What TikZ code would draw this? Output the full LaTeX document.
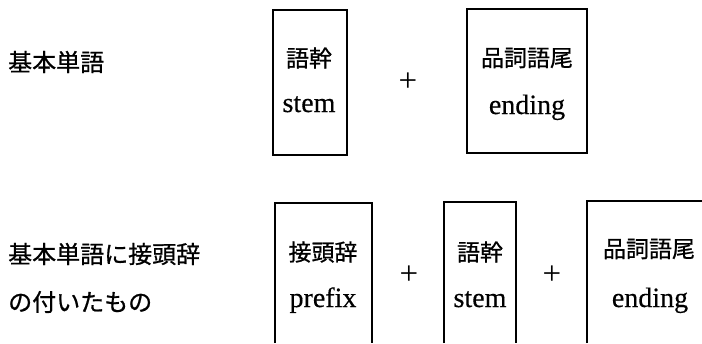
\documentclass[tikz,border=0pt]{standalone}
\usepackage{fontspec}
\setmainfont[FakeBold=0.4]{Liberation Serif}
\newfontfamily\cjk[FakeBold=0.8]{Noto Sans CJK JP}
\newfontfamily\plusfont{Liberation Serif}
\begin{document}
\begin{tikzpicture}[x=1pt,y=-1pt,
  boxline/.style={line width=1.2pt},
  jp/.style={font=\cjk\fontsize{23}{23}\selectfont, inner sep=0pt},
  lab/.style={font=\cjk\fontsize{24}{24}\selectfont, inner sep=0pt, anchor=west},
  en/.style={font=\fontsize{28}{28}\selectfont, inner sep=0pt, anchor=base},
  plus/.style={font=\plusfont\fontsize{33}{33}\selectfont, inner sep=0pt}]
\useasboundingbox (0,0) rectangle (702,343);
% left labels
\node[lab] (l1) at (8,62) {基本単語};
\node[lab] (l2) at (8,254) {基本単語に接頭辞};
\node[lab] (l3) at (8,302) {の付いたもの};
% top row
\node[draw, boxline, minimum width=74pt, minimum height=145pt, inner sep=0pt] (b1) at (310,82.5) {};
\node[jp] (b1j) at (309,58) {語幹};
\node[en] (b1e) at (309,112) {stem};
\node[plus] (p1) at (408,82) {+};
\node[draw, boxline, minimum width=120pt, minimum height=144pt, inner sep=0pt] (b2) at (527,81) {};
\node[jp] (b2j) at (527,58) {品詞語尾};
\node[en] (b2e) at (527,114) {ending};
% bottom row
\coordinate (c1) at (275,343);
\coordinate (c2) at (372,343);
\draw[boxline] (c1) |- (372,203) -- (c2);
\node[jp] (b3j) at (323,252) {接頭辞};
\node[en] (b3e) at (323,307) {prefix};
\node[plus] (p2) at (409,275) {+};
\coordinate (c3) at (444,343);
\coordinate (c4) at (516,343);
\draw[boxline] (c3) |- (516,202) -- (c4);
\node[jp] (b4j) at (480,252) {語幹};
\node[en] (b4e) at (480,307) {stem};
\node[plus] (p3) at (552,275) {+};
\coordinate (c5) at (587,343);
\coordinate (c6) at (702,201);
\draw[boxline] (c5) |- (c6);
\node[jp] (b5j) at (649,249) {品詞語尾};
\node[en] (b5e) at (650,307) {ending};
\end{tikzpicture}
\end{document}
